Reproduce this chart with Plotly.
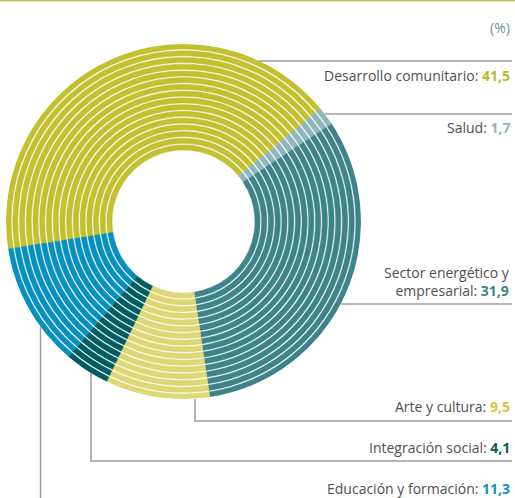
import plotly.graph_objects as go

# data
categories = ["Desarrollo comunitario", "Salud", "Sector energético y<br>empresarial",
              "Arte y cultura", "Integración social", "Educación y formación"]
values = [41.5, 1.7, 31.9, 9.5, 4.1, 11.3]
slice_colors = ["#c2c031", "#8fb6bc", "#3d8389", "#ddd775", "#035c62", "#0590c0"]
number_colors = ["#b9b82a", "#8fb6bc", "#3d8389", "#d2c83a", "#0b565c", "#1190c2"]

W, H = 515, 498
start_angle = 261.1          # clockwise from 12 o'clock, where the first slice begins
n_rings = 16
r_inner, r_outer, gap = 71.5, 177.5, 1.6
pitch = (r_outer - r_inner + gap) / n_rings
ring_w = pitch - gap

# slice centres / widths in degrees
widths = [v * 3.6 for v in values]
mids = []
acc = start_angle
for w in widths:
    mids.append(acc + w / 2)
    acc += w

fig = go.Figure()

for k in range(n_rings):
    fig.add_trace(go.Barpolar(
        theta=mids,
        width=widths,
        r=[ring_w] * len(values),
        base=[r_inner + k * pitch] * len(values),
        marker=dict(color=slice_colors, line=dict(color=slice_colors, width=0.5)),
        hoverinfo="skip",
        showlegend=False,
    ))

# helper trace so the cartesian axes exist (pixel coordinates)
fig.add_trace(go.Scatter(x=[0, W], y=[0, H], mode="markers",
                         marker=dict(opacity=0), hoverinfo="skip", showlegend=False))

line_style = dict(color="#9c9c9c", width=1.5)
shapes = [
    dict(type="line", x0=0, x1=W, y0=0.5, y1=0.5, line=dict(color="#c2c031", width=1.5)),
    # Desarrollo
    dict(type="line", x0=259, x1=512, y0=61, y1=61, line=line_style),
    # Salud
    dict(type="line", x0=325, x1=512, y0=114, y1=114, line=line_style),
    # Sector
    dict(type="line", x0=341, x1=512, y0=304, y1=304, line=line_style),
    # Arte
    dict(type="path", path="M 195 399 L 195 421 L 512 421", line=line_style),
    # Integración
    dict(type="path", path="M 91 373 L 91 461 L 512 461", line=line_style),
    # Educación
    dict(type="path", path="M 40.5 327 L 40.5 510", line=line_style),
]
for s in shapes:
    s.update(xref="x", yref="y", layer="above")

label_y = [75, 127, 281, 406, 447, 488]
annotations = [dict(x=512, y=27, xref="x", yref="y", text="(%)", showarrow=False,
                    xanchor="right", yanchor="middle", font=dict(size=14, color="#6a949b"))]
for cat, v, c, y in zip(categories, values, number_colors, label_y):
    num = f"{v:.1f}".replace(".", ",")
    annotations.append(dict(
        x=512, y=y, xref="x", yref="y", showarrow=False,
        xanchor="right", yanchor="middle", align="right",
        text=f"{cat}: <b><span style='color:{c}'>{num}</span></b>",
        font=dict(size=14, color="#505050"),
    ))

fig.update_layout(
    width=W, height=H,
    margin=dict(l=0, r=0, t=0, b=0),
    paper_bgcolor="white", plot_bgcolor="white",
    font=dict(family="Open Sans, sans-serif"),
    xaxis=dict(range=[0, W], visible=False, domain=[0, 1], fixedrange=True),
    yaxis=dict(range=[H, 0], visible=False, domain=[0, 1], fixedrange=True),
    polar=dict(
        domain=dict(x=[6 / W, 361 / W], y=[(H - 399) / H, (H - 44) / H]),
        bgcolor="rgba(0,0,0,0)",
        radialaxis=dict(range=[0, r_outer], visible=False, showgrid=False),
        angularaxis=dict(direction="clockwise", rotation=90, visible=False, showgrid=False),
        barmode="overlay",
    ),
    shapes=shapes,
    annotations=annotations,
)

fig.write_html("out.html", config={"displayModeBar": False},
               post_script="document.body.style.margin='0px';document.body.style.overflow='hidden';")
